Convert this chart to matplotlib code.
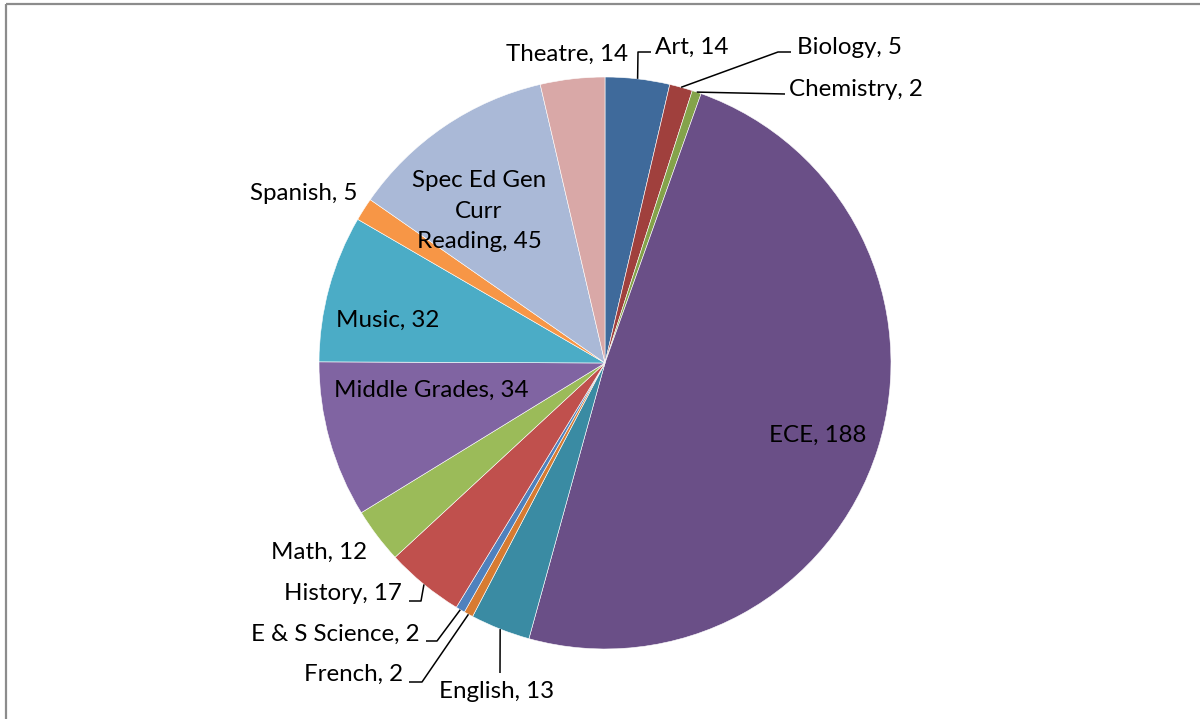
import numpy as np
import matplotlib
matplotlib.use("Agg")
import matplotlib.pyplot as plt

categories = ["Art", "Biology", "Chemistry", "ECE", "English", "French",
              "E & S Science", "History", "Math", "Middle Grades", "Music",
              "Spanish", "Spec Ed Gen\nCurr\nReading", "Theatre"]
values = [14, 5, 2, 188, 13, 2, 2, 17, 12, 34, 32, 5, 45, 14]
colors = ["#3F6A9B", "#A0403D", "#84A34A", "#6A4F87", "#3A8BA3", "#D77B31",
          "#4F81BD", "#C0504D", "#9BBB59", "#8064A2", "#4BACC6", "#F79646",
          "#AAB9D7", "#D9A8A7"]

W, H = 1200, 719
fig = plt.figure(figsize=(W / 100, H / 100), dpi=100)
ax = fig.add_axes([0, 0, 1, 1])

def Y(y):
    return H - y

cx, cy, R = 605, 363, 286
ax.pie(values, colors=colors, startangle=90, counterclock=False,
       center=(cx, Y(cy)), radius=R, wedgeprops=dict(linewidth=0.4, edgecolor="white"))
ax.set_xlim(0, W)
ax.set_ylim(0, H)
ax.set_aspect("equal")
ax.axis("off")

FONT = "Lato"
FS = 17.4

tot = sum(values)
cum = np.cumsum([0] + values)
def arc_point(i):
    mid = (cum[i] + cum[i + 1]) / 2 / tot * 360
    ang = np.deg2rad(90 - mid)
    return cx + R * np.cos(ang), cy - R * np.sin(ang)

def lbl(i):
    return f"{categories[i]}, {values[i]}"

def txt(x, y, s, ha="center"):
    ax.text(x, Y(y), s, ha=ha, va="center", fontsize=FS, family=FONT,
            color="black", linespacing=1.58)

def leader(i, pts):
    x0, y0 = arc_point(i)
    xs = [x0] + [p[0] for p in pts]
    ys = [Y(y0)] + [Y(p[1]) for p in pts]
    ax.plot(xs, ys, color="black", lw=1.1, solid_capstyle="butt")

idx = {c.split("\n")[0]: k for k, c in enumerate(categories)}

# Top labels
txt(628, 54, lbl(idx["Theatre"]), ha="right")
txt(655, 47, lbl(idx["Art"]), ha="left")
leader(idx["Art"], [(638, 52), (651, 52)])
txt(797, 47, lbl(idx["Biology"]), ha="left")
leader(idx["Biology"], [(778, 52), (791, 52)])
txt(789, 89, lbl(idx["Chemistry"]), ha="left")
leader(idx["Chemistry"], [(785, 94)])

# Inside labels
txt(818, 435, lbl(idx["ECE"]))
txt(431, 390, lbl(idx["Middle Grades"]))
txt(388, 320, lbl(idx["Music"]))
txt(479, 211, lbl(idx["Spec Ed Gen"]))

# Left labels
txt(358, 193, lbl(idx["Spanish"]), ha="right")
txt(367, 552, lbl(idx["Math"]), ha="right")
txt(402, 594, lbl(idx["History"]), ha="right")
leader(idx["History"], [(421, 601), (409, 601)])
txt(420, 634, lbl(idx["E & S Science"]), ha="right")
leader(idx["E & S Science"], [(437, 641), (426, 641)])
txt(403, 674, lbl(idx["French"]), ha="right")
leader(idx["French"], [(422, 682), (409, 682)])
txt(497, 692, lbl(idx["English"]))
leader(idx["English"], [(500, 673)])

# Chart border (top and left edges visible)
ax.plot([5.5, W], [Y(4), Y(4)], color="#8C8C8C", lw=1.6, solid_capstyle="butt")
ax.plot([5.5, 5.5], [Y(4), 0], color="#8C8C8C", lw=1.6, solid_capstyle="butt")

fig.savefig("out.png", dpi=100, facecolor="white")
